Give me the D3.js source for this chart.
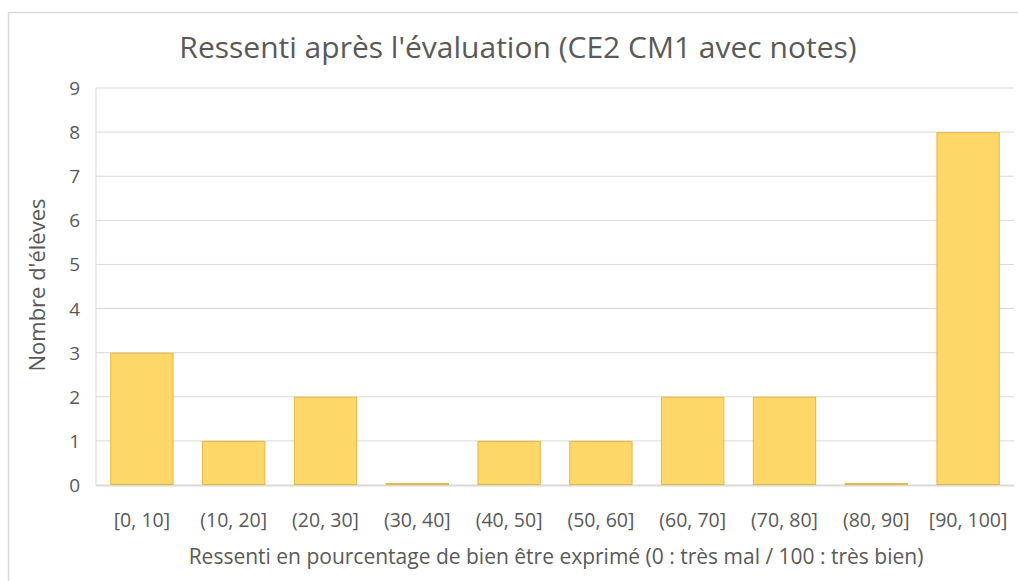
<!DOCTYPE html>
<html>
  <head>
    <meta charset="utf-8" />
    <script src="https://d3js.org/d3.v7.min.js"></script>
    <style>
      body { margin: 0; background: white; }
      text { font-family: "Open Sans", sans-serif; fill: #595959; }
    </style>
  </head>
  <body>
    <svg id="canvas" width="1018" height="581"></svg>
    <script>
      const categories = ["[0, 10]", "(10, 20]", "(20, 30]", "(30, 40]", "(40, 50]",
        "(50, 60]", "(60, 70]", "(70, 80]", "(80, 90]", "[90, 100]"];
      const counts = [3, 1, 2, 0, 1, 1, 2, 2, 0, 8];
      const yTicks = [0, 1, 2, 3, 4, 5, 6, 7, 8, 9];

      const svg = d3.select("#canvas");

      // outer chart border (runs off the right and bottom)
      svg.append("rect")
        .attr("x", 8.5).attr("y", 12.5)
        .attr("width", 1030).attr("height", 600)
        .attr("fill", "white")
        .attr("stroke", "#d9d9d9").attr("stroke-width", 1.5);

      const margin = { left: 96, top: 88, right: 1014, bottom: 485 };

      const x = d3.scaleBand()
        .domain(categories)
        .range([margin.left, margin.right])
        .paddingInner(0.31)
        .paddingOuter(0.155);

      const y = d3.scaleLinear().domain([0, 9]).range([margin.bottom, margin.top]);

      // gridlines
      svg.append("g")
        .selectAll("line")
        .data(yTicks.filter(d => d > 0))
        .enter()
        .append("line")
        .attr("x1", margin.left).attr("x2", margin.right)
        .attr("y1", d => y(d)).attr("y2", d => y(d))
        .attr("stroke", "#d9d9d9").attr("stroke-width", 1);

      // left edge of plot area
      svg.append("line")
        .attr("x1", margin.left).attr("x2", margin.left)
        .attr("y1", margin.top).attr("y2", margin.bottom)
        .attr("stroke", "#d9d9d9").attr("stroke-width", 1);

      // baseline
      svg.append("line")
        .attr("x1", margin.left).attr("x2", margin.right)
        .attr("y1", y(0) + 0.5).attr("y2", y(0) + 0.5)
        .attr("stroke", "#d9d9d9").attr("stroke-width", 2);

      // bars (zero counts still show as a thin outline)
      svg.append("g")
        .selectAll("rect")
        .data(counts)
        .enter()
        .append("rect")
        .attr("x", (d, i) => x(categories[i]) + 0.5)
        .attr("y", d => Math.min(y(d), y(0) - 2) + 0.5)
        .attr("width", x.bandwidth() - 1)
        .attr("height", d => Math.max(1, y(0) - y(d) - 1))
        .attr("fill", "#fdd767")
        .attr("stroke", "#e3b945").attr("stroke-width", 1);

      // y tick labels
      svg.append("g")
        .selectAll("text")
        .data(yTicks)
        .enter()
        .append("text")
        .attr("x", 80)
        .attr("y", d => y(d) + 7)
        .attr("text-anchor", "end")
        .style("font-size", "19px")
        .text(d => d);

      // x tick labels
      svg.append("g")
        .selectAll("text")
        .data(categories)
        .enter()
        .append("text")
        .attr("x", d => x(d) + x.bandwidth() / 2)
        .attr("y", 527)
        .attr("text-anchor", "middle")
        .style("font-size", "19.5px")
        .text(d => d);

      // title
      svg.append("text")
        .attr("x", 518).attr("y", 58)
        .attr("text-anchor", "middle")
        .style("font-size", "30px")
        .text("Ressenti après l'évaluation (CE2 CM1 avec notes)");

      // axis titles
      svg.append("text")
        .attr("x", 556).attr("y", 564)
        .attr("text-anchor", "middle")
        .style("font-size", "21px")
        .text("Ressenti en pourcentage de bien être exprimé (0 : très mal / 100 : très bien)");

      svg.append("text")
        .attr("transform", "translate(45,285) rotate(-90)")
        .attr("text-anchor", "middle")
        .style("font-size", "22px")
        .text("Nombre d'élèves");
    </script>
  </body>
</html>
